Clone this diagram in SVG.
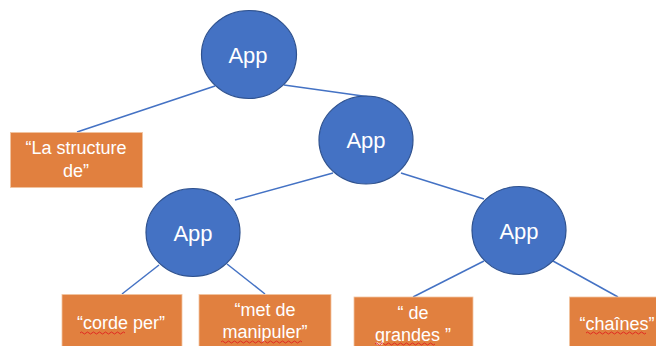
<svg xmlns="http://www.w3.org/2000/svg" width="656" height="346" viewBox="0 0 656 346">
<style>
.app{fill:#4472C4;stroke:#2F528F;stroke-width:1.2}
.box{fill:#E1803F;stroke:#F2C4A0;stroke-width:0.8}
.t1{font-family:"Liberation Sans",Arial,sans-serif;font-size:22px;fill:#fff;text-anchor:middle}
.t2{font-family:"Liberation Sans",Arial,sans-serif;font-size:18px;fill:#fff;text-anchor:middle}
.edge{stroke:#4472C4;stroke-width:1.5;fill:none}
.sq{stroke:#E02020;stroke-width:0.9;fill:none}
</style>
<rect width="656" height="346" fill="#fff"/>
<g id="connectors">
<line class="edge" x1="215" y1="86" x2="77" y2="132"/>
<line class="edge" x1="284" y1="85" x2="370" y2="97"/>
<line class="edge" x1="333" y1="173" x2="235" y2="200"/>
<line class="edge" x1="401" y1="173" x2="484" y2="199"/>
<line class="edge" x1="159" y1="265" x2="122" y2="294"/>
<line class="edge" x1="227" y1="264" x2="265" y2="294"/>
<line class="edge" x1="484" y1="261" x2="413" y2="297"/>
<line class="edge" x1="553" y1="261" x2="618" y2="297"/>
</g>
<g id="n1"><ellipse class="app" cx="249" cy="54.5" rx="47.5" ry="44"/><text class="t1" x="248" y="62.5">App</text></g>
<g id="n2"><ellipse class="app" cx="366" cy="140" rx="47" ry="44"/><text class="t1" x="366" y="148">App</text></g>
<g id="n3"><ellipse class="app" cx="193" cy="232.5" rx="47" ry="44"/><text class="t1" x="193" y="240.5">App</text></g>
<g id="n4"><ellipse class="app" cx="519" cy="230.5" rx="47" ry="44"/><text class="t1" x="519" y="238.5">App</text></g>
<g id="leaf1"><rect class="box" x="10.5" y="132.5" width="132" height="55"/><text class="t2" x="76" y="154">“La structure</text><text class="t2" x="76" y="176.5">de”</text></g>
<g id="leaf2"><rect class="box" x="62" y="294.5" width="120" height="60"/><text class="t2" x="121" y="329">“corde per”</text>
<path class="sq" d="M80 333 q1.5 -2 3 0 t3 0 t3 0 t3 0 t3 0 t3 0 t3 0 t3 0 t3 0 t3 0 t3 0 t3 0 t3 0 t3 0 t3 0"/></g>
<g id="leaf3"><rect class="box" x="199" y="294.5" width="132" height="60"/><text class="t2" x="265" y="315.5">“met de</text><text class="t2" x="265" y="338">manipuler”</text>
<path class="sq" d="M221 342 q1.5 -2 3 0 t3 0 t3 0 t3 0 t3 0 t3 0 t3 0 t3 0 t3 0 t3 0 t3 0 t3 0 t3 0 t3 0 t3 0 t3 0 t3 0 t3 0 t3 0 t3 0 t3 0 t3 0 t3 0 t3 0 t3 0 t3 0 t3 0"/></g>
<g id="leaf4"><rect class="box" x="354" y="297" width="119" height="60"/><text class="t2" x="413" y="318.5">“ de</text><text class="t2" x="413" y="340.5">grandes ”</text>
<path class="sq" d="M375 344 q1.5 -2 3 0 t3 0 t3 0 t3 0 t3 0 t3 0 t3 0 t3 0 t3 0 t3 0 t3 0 t3 0 t3 0 t3 0 t3 0 t3 0 t3 0 t3 0 t3 0 t3 0"/></g>
<g id="leaf5"><rect class="box" x="569.5" y="297" width="100" height="60"/><text class="t2" x="617" y="329.5">“chaînes”</text>
<path class="sq" d="M586 333 q1.5 -2 3 0 t3 0 t3 0 t3 0 t3 0 t3 0 t3 0 t3 0 t3 0 t3 0 t3 0 t3 0 t3 0 t3 0 t3 0 t3 0 t3 0 t3 0 t3 0 t3 0"/></g>
</svg>
